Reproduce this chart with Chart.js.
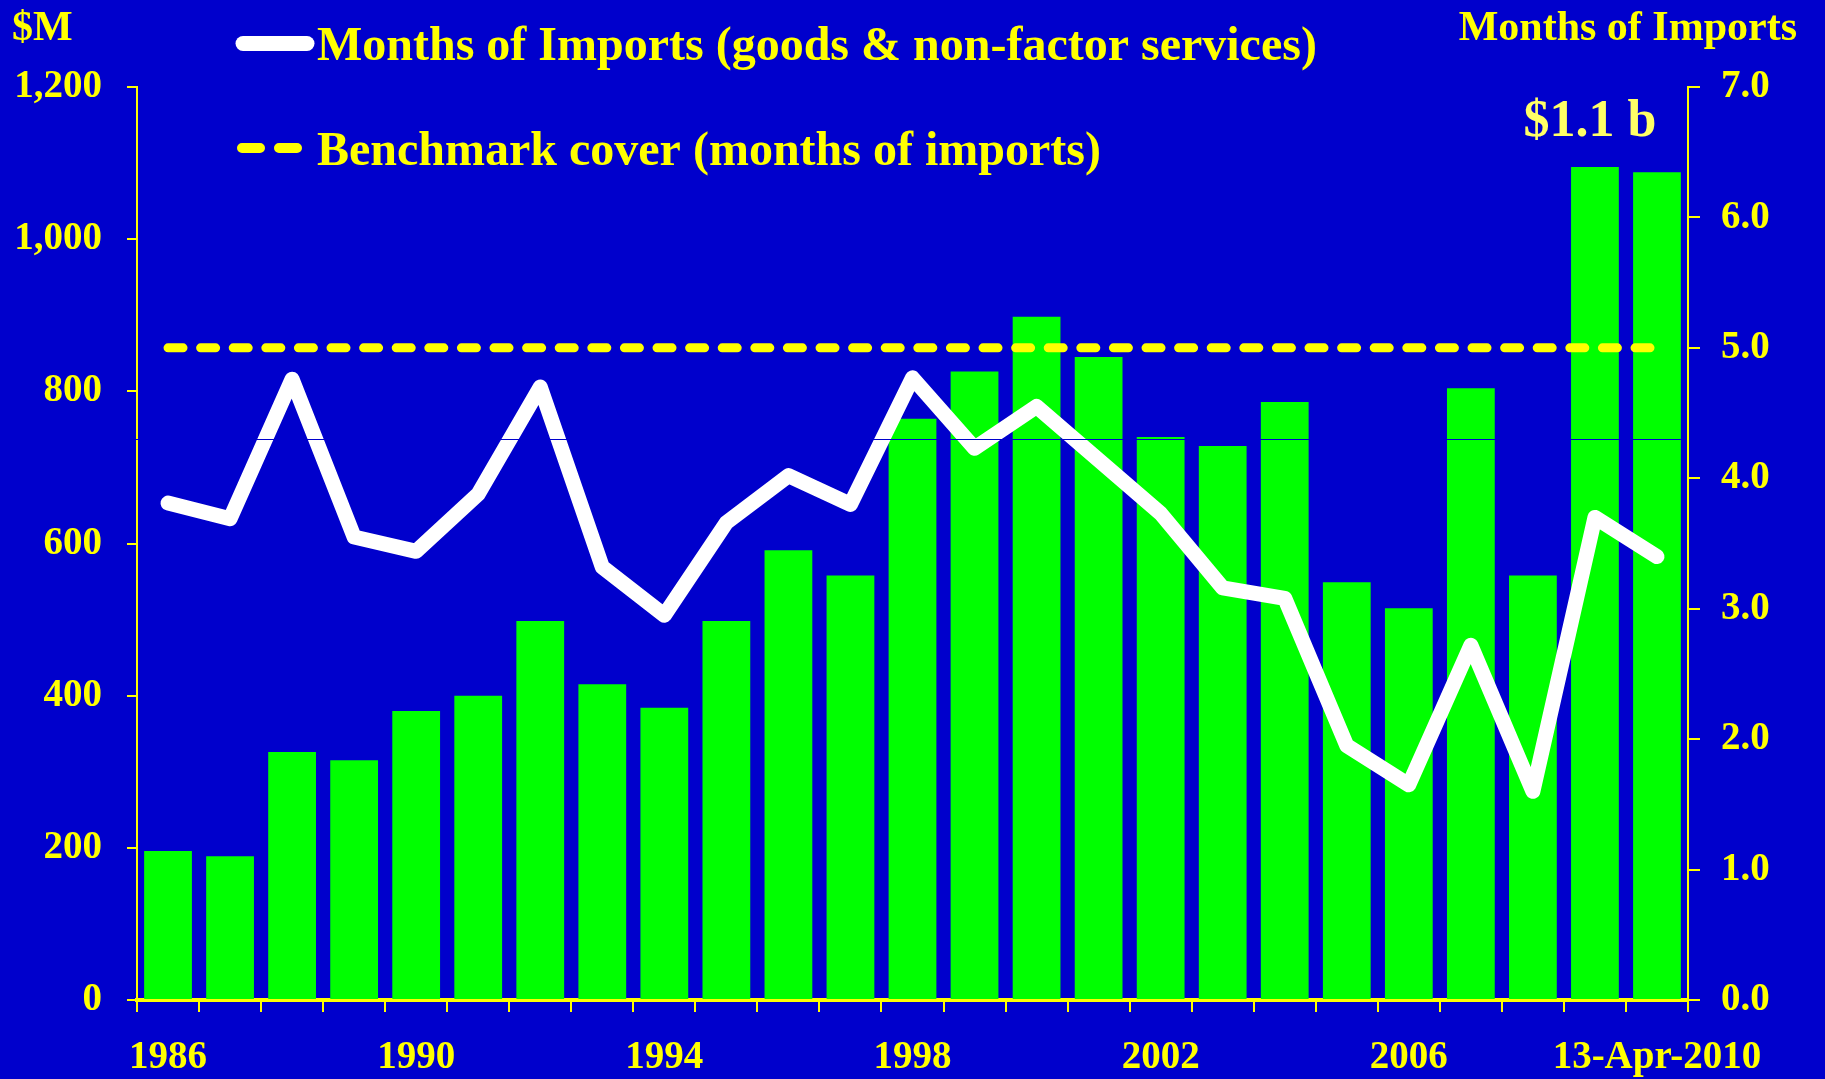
<!DOCTYPE html>
<html lang="en">
<head>
<meta charset="UTF-8" />
<title>Reserves and Months of Imports</title>
<script src="https://cdn.jsdelivr.net/npm/chart.js@4.4.1/dist/chart.umd.min.js"></script>
<style>
html,body{margin:0;padding:0;background:#0000cc;overflow:hidden}
#wrap{position:relative;width:1825px;height:1079px}
</style>
</head>
<body>
<div id="wrap"><canvas id="chart" width="1825" height="1079"></canvas></div>
<script>
  // data
  const years = ['1986','1987','1988','1989','1990','1991','1992','1993','1994','1995','1996','1997',
    '1998','1999','2000','2001','2002','2003','2004','2005','2006','2007','2008','2009','13-Apr-2010'];
  const reservesM = [196,189,326,315,380,400,498,415,384,498,591,558,764,826,898,845,740,728,786,549,515,804,558,1095,1088];
  const monthsCover = [3.81,3.69,4.76,3.55,3.44,3.88,4.70,3.32,2.95,3.66,4.02,3.80,4.77,4.23,4.55,4.14,3.73,3.16,3.08,1.95,1.65,2.72,1.60,3.70,3.40];
  const benchmarkMonths = [5,5,5,5,5,5,5,5,5,5,5,5,5,5,5,5,5,5,5,5,5,5,5,5,5];
  const leftTicks = [0,200,400,600,800,1000,1200];
  const rightTicks = [0,1,2,3,4,5,6,7];
  const seamValue = 738; // thin background-coloured seam across the plot in the original

  const YEL = '#ffff00', BG = '#0000cc';
  const FONT = '"Liberation Serif","Times New Roman",serif';

  const decor = {
    id: 'decor',
    beforeDraw(chart) {
      const {ctx, width, height} = chart;
      ctx.save();
      ctx.fillStyle = BG;
      ctx.fillRect(0, 0, width, height);
      ctx.restore();
    },
    afterDatasetsDraw(chart) {
      const {ctx, chartArea: a, scales: {y}} = chart;
      const py = Math.round(y.getPixelForValue(seamValue)) + 0.5;
      ctx.save();
      ctx.strokeStyle = BG; ctx.lineWidth = 1;
      ctx.beginPath(); ctx.moveTo(a.left - 2, py); ctx.lineTo(a.right - 1, py); ctx.stroke();
      ctx.restore();
    },
    afterDraw(chart) {
      const {ctx, scales: {x, y}} = chart;
      ctx.save();
      ctx.fillStyle = YEL;
      ctx.textBaseline = 'alphabetic';
      // axis titles
      ctx.font = 'bold 42px ' + FONT;
      ctx.textAlign = 'left';  ctx.fillText('$M', 12, 40);
      ctx.textAlign = 'right'; ctx.fillText('Months of Imports', 1797, 40);
      // legend
      ctx.lineCap = 'round';
      ctx.strokeStyle = '#ffffff'; ctx.lineWidth = 15;
      ctx.beginPath(); ctx.moveTo(243, 43.5); ctx.lineTo(307, 43.5); ctx.stroke();
      ctx.strokeStyle = YEL; ctx.lineWidth = 10;
      ctx.beginPath(); ctx.moveTo(242, 148); ctx.lineTo(260, 148); ctx.moveTo(279, 148); ctx.lineTo(297, 148); ctx.stroke();
      ctx.font = 'bold 48px ' + FONT;
      ctx.textAlign = 'left';
      ctx.fillText('Months of Imports (goods & non-factor services)', 317, 60);
      ctx.fillText('Benchmark cover (months of imports)', 317, 165);
      // annotation over the 2009 bar
      ctx.font = 'bold 52px ' + FONT;
      ctx.fillStyle = '#ffff66';
      ctx.textAlign = 'center';
      ctx.fillText('$1.1 b', x.getPixelForValue(23) - 5, y.getPixelForValue(1135));
      ctx.restore();
    }
  };

  const tickFont = {family: FONT, size: 39, weight: 'bold'};

  new Chart(document.getElementById('chart'), {
    type: 'bar',
    data: {
      labels: years,
      datasets: [
        {type:'line', data: benchmarkMonths, yAxisID:'y1', borderColor: YEL, borderWidth: 9,
         borderDash:[15,17.6], borderCapStyle:'round', pointRadius:0, tension:0, order:1},
        {type:'line', data: monthsCover, yAxisID:'y1', borderColor:'#ffffff', borderWidth:15,
         borderCapStyle:'round', borderJoinStyle:'round', pointRadius:0, tension:0, order:2},
        {type:'bar', data: reservesM, yAxisID:'y', backgroundColor:'#00ff00',
         barPercentage:0.77, categoryPercentage:1, order:3}
      ]
    },
    options: {
      responsive: false,
      animation: false,
      devicePixelRatio: 1,
      layout: {padding: {top: 87, left: 0, right: 0, bottom: 0}},
      plugins: {legend: {display: false}, tooltip: {enabled: false}},
      scales: {
        x: {
          offset: true,
          afterFit: s => { s.height = 79; },
          grid: {display:true, drawOnChartArea:false, drawTicks:true, tickLength:12, color:YEL, lineWidth:2, offset:true},
          border: {color: YEL, width: 4},
          ticks: {color: YEL, font: tickFont, padding: 23, autoSkip:false, maxRotation:0, minRotation:0,
                  callback: (v, i) => i % 4 === 0 ? years[i] : ''}
        },
        y: {
          position: 'left', min: 0, max: 1200,
          afterFit: s => { s.width = 137; },
          afterBuildTicks: s => { s.ticks = leftTicks.map(v => ({value: v})); },
          grid: {drawOnChartArea:false, drawTicks:true, tickLength:10, color:YEL, lineWidth:2},
          border: {color: YEL, width: 2},
          ticks: {color: YEL, font: tickFont, padding: 25, callback: v => v.toLocaleString('en-US')}
        },
        y1: {
          position: 'right', min: 0, max: 7,
          afterFit: s => { s.width = 137; },
          afterBuildTicks: s => { s.ticks = rightTicks.map(v => ({value: v})); },
          grid: {drawOnChartArea:false, drawTicks:true, tickLength:12, color:YEL, lineWidth:2},
          border: {color: YEL, width: 2},
          ticks: {color: YEL, font: tickFont, padding: 21, callback: v => Number(v).toFixed(1)}
        }
      }
    },
    plugins: [decor]
  });
</script>
</body>
</html>
